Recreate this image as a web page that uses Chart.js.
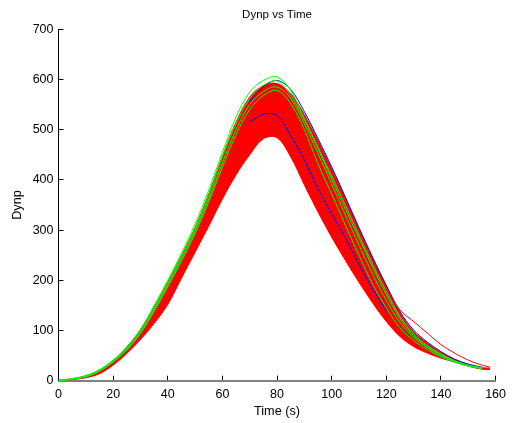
<!DOCTYPE html>
<html>
<head>
<meta charset="utf-8">
<title>Dynp vs Time</title>
<script src="https://cdn.jsdelivr.net/npm/chart.js@4.4.1/dist/chart.umd.min.js"></script>
<style>
  html, body { margin: 0; padding: 0; background: #fff; }
  canvas { display: block; }
</style>
</head>
<body>
<canvas id="dynpChart" width="517" height="423"></canvas>
<script>
// time axis (s) shared by every run
const time = [0, 5, 10, 15, 20, 25, 30, 35, 40, 45, 50, 55, 60, 65, 70, 75, 80,
  85, 90, 95, 100, 105, 110, 115, 120, 125, 130, 135, 140, 145, 150, 155, 158];

// outer and inner edge of the big red bundle
const redUpper = [1, 4, 10, 21, 40, 66, 100, 146, 196, 249, 305, 372, 447, 515, 565, 588, 592,
  572, 530, 478, 422, 364, 302, 244, 188, 135, 98, 75, 56, 42, 32, 26, 25];
const redLower = [0, 2, 6, 14, 31, 54, 82, 114, 152, 204, 256, 308, 362, 410, 450, 482, 484,
  446, 390, 336, 286, 240, 196, 155, 118, 88, 68, 55, 45, 37, 29, 23, 22];

// green runs
const green1 = [1, 4, 10, 22, 41, 68, 103, 150, 200, 254, 312, 380, 455, 525, 575, 598, 605,
  578, 522, 465, 408, 350, 290, 232, 178, 128, 93, 70, 53, 40, 31, 26, null];
const green2 = [0, 3, 9, 20, 39, 64, 98, 144, 194, 247, 303, 370, 446, 512, 562, 588, 597,
  568, 520, 462, 402, 342, 284, 226, 172, 124, 90, 68, 52, 39, 30, 25, null];
const green3 = [0, 3, 8, 19, 37, 61, 94, 138, 187, 238, 293, 356, 425, 490, 540, 568, 578,
  552, 500, 432, 372, 310, 250, 192, 145, 105, 80, 62, 48, 37, 29, 24, null];
const green4 = [0, 3, 8, 19, 38, 62, 96, 140, 190, 242, 298, 362, 434, 500, 550, 576, 585,
  562, 512, 452, 392, 330, 270, 212, 160, 116, 86, 66, 50, 38, 30, 25, null];

// blue runs (only the visible parts)
const blue1 = [null, null, null, null, null, null, null, null, null, null, null, null, null, null,
  556, 586, 598, 580, 536, 482, 426, 366, 305, 246, 190, 138, 101, 77, 58, 43, 33, 27, null];
const blue2 = [null, null, null, null, null, null, null, null, null, null, null, null, null, null,
  515, 531, 528, 488, 440, 382, 332, 285, 232, 183, 140, null, null, null, null, null, null, null, null];

// red run with the slow tail
const redTail = [null, null, null, null, null, null, null, null, null, null, null, null, null, null,
  null, null, null, null, null, null, null, null, 300, 240, 186, 141, 118, 95, 72, 55, 41, 31, 27];

const xTicks = [0, 20, 40, 60, 80, 100, 120, 140, 160];
const yTicks = [0, 100, 200, 300, 400, 500, 600, 700];

const RED = "#ff0000";
const GREEN = "#00ff00";
const BLUE = "#0000ff";

function toPoints(values) {
  return time.map((t, i) => ({ x: t, y: values[i] }));
}

function run(values, color, order, extra) {
  return Object.assign({
    data: toPoints(values),
    borderColor: color,
    backgroundColor: color,
    borderWidth: 1,
    pointRadius: 0,
    tension: 0.35,
    fill: false,
    order: order,
  }, extra || {});
}

Chart.defaults.font.family = "'Liberation Sans', Arial, Helvetica, sans-serif";
Chart.defaults.color = "#000";

const ctx = document.getElementById("dynpChart");

new Chart(ctx, {
  type: "line",
  data: {
    datasets: [
      run(redUpper, RED, 10, { fill: "+1" }),
      run(redLower, RED, 10),
      run(blue1, BLUE, 7),
      run(green1, GREEN, 5),
      run(green2, GREEN, 5),
      run(green4, GREEN, 6),
      run(green3, GREEN, 6),
      run(blue2, BLUE, 4),
      run(redTail, RED, 3),
    ],
  },
  options: {
    responsive: false,
    animation: false,
    layout: { padding: { left: 0, right: 12.7, top: 0, bottom: 0 } },
    plugins: {
      legend: { display: false },
      tooltip: { enabled: false },
      title: {
        display: true,
        fullSize: false,
        text: "Dynp vs Time",
        font: { size: 11.5, weight: "normal" },
        padding: { top: 8, bottom: 7.5 },
      },
    },
    scales: {
      x: {
        type: "linear",
        min: 0,
        max: 160,
        afterFit: (scale) => { scale.height = 42.3; },
        afterBuildTicks: (scale) => { scale.ticks = xTicks.map((v) => ({ value: v })); },
        ticks: { autoSkip: false, maxRotation: 0, padding: 11, font: { size: 12.5 } },
        grid: { drawOnChartArea: false, tickLength: -5, color: "#000" },
        border: { color: "#808080", width: 2 },
        title: { display: true, text: "Time (s)", font: { size: 12.7 }, padding: { top: 0, bottom: 4 } },
      },
      y: {
        min: 0,
        max: 700,
        afterFit: (scale) => { scale.width = 58.5; },
        afterBuildTicks: (scale) => { scale.ticks = yTicks.map((v) => ({ value: v })); },
        ticks: { padding: 10, font: { size: 12.5 } },
        grid: { drawOnChartArea: false, tickLength: -5, color: "#000" },
        border: { color: "#000", width: 1 },
        title: { display: true, text: "Dynp", font: { size: 12.7 }, padding: { top: 10, bottom: 0 } },
      },
    },
  },
});
</script>
</body>
</html>
